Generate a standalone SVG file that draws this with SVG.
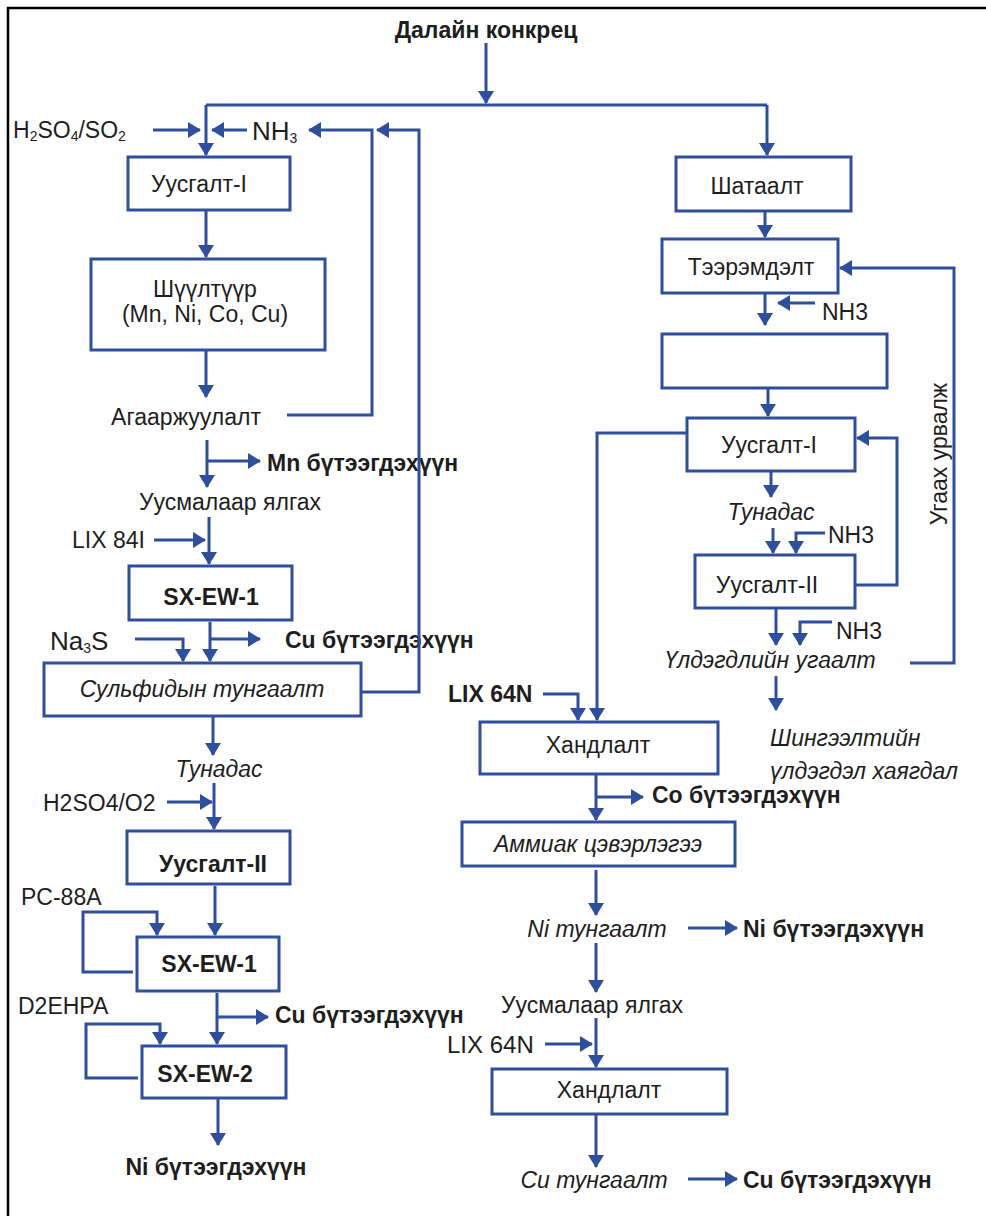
<svg xmlns="http://www.w3.org/2000/svg" width="986" height="1216" viewBox="0 0 986 1216">
<defs>
<marker id="ah" viewBox="0 0 13 16" refX="12" refY="8" markerWidth="13" markerHeight="16" markerUnits="userSpaceOnUse" orient="auto">
<path d="M0,0 L13,8 L0,16 z" fill="#2F4E9C"/>
</marker>
<style>
.bx{fill:#fff;stroke:#2F4E9C;stroke-width:3}
.c path{fill:none;stroke:#2F4E9C;stroke-width:3}
.c .a{marker-end:url(#ah)}
text{font-family:"Liberation Sans",Arial,sans-serif;font-size:23px;fill:#1e1e1e}
.b{font-weight:bold}
.i{font-style:italic}
.m{text-anchor:middle}
.big{font-size:26px}
.sub{font-size:14px}
</style>
</defs>
<rect width="986" height="1216" fill="#fff"/>
<path d="M8,1216 V8 H986" fill="none" stroke="#000" stroke-width="2.5"/>

<g id="title"><text class="b m" x="486" y="38">Далайн конкрец</text></g>
<g id="h2so4-so2"><text x="13" y="138">H<tspan class="sub" dy="3">2</tspan><tspan dy="-3">SO</tspan><tspan class="sub" dy="3">4</tspan><tspan dy="-3">/SO</tspan><tspan class="sub" dy="3">2</tspan></text></g>
<g id="nh3-top"><text class="big" x="252" y="140">NH<tspan class="sub" dy="3">3</tspan></text></g>

<g id="uusgalt1-l"><rect class="bx" x="128" y="157" width="162" height="53"/><text class="m" x="199" y="192">Уусгалт-I</text></g>
<g id="shuultuur"><rect class="bx" x="91" y="259" width="234" height="91"/><text class="m" x="205" y="297">Шүүлтүүр</text><text class="m" x="205" y="322">(Mn, Ni, Co, Cu)</text></g>
<g id="agaarjuulalt"><text class="m" x="186" y="425">Агааржуулалт</text></g>
<g id="mn-prod"><text class="b" x="267" y="471">Mn бүтээгдэхүүн</text></g>
<g id="uusmal-l"><text class="m" x="230" y="510">Уусмалаар ялгах</text></g>
<g id="lix84"><text x="72" y="548">LIX 84I</text></g>
<g id="sxew1-a"><rect class="bx" x="129" y="566" width="163" height="54"/><text class="b m" x="211" y="605">SX-EW-1</text></g>
<g id="cu-prod-1"><text class="b" x="285" y="648">Cu бүтээгдэхүүн</text></g>
<g id="na3s"><text class="big" x="50" y="650">Na<tspan class="sub" dy="3">3</tspan><tspan dy="-3">S</tspan></text></g>
<g id="sulfid"><rect class="bx" x="44" y="663" width="317" height="53"/><text class="i m" x="202" y="697">Сульфидын тунгаалт</text></g>
<g id="tunadas-l"><text class="i m" x="219" y="777">Тунадас</text></g>
<g id="h2so4-o2"><text x="43" y="811">H2SO4/O2</text></g>
<g id="uusgalt2-l"><rect class="bx" x="127" y="831" width="163" height="53"/><text class="b m" x="213" y="872">Уусгалт-II</text></g>
<g id="pc88a"><text x="21" y="905">PC-88A</text></g>
<g id="sxew1-b"><rect class="bx" x="137" y="937" width="142" height="54"/><text class="b m" x="209" y="972">SX-EW-1</text></g>
<g id="d2ehpa"><text x="18" y="1014">D2EHPA</text></g>
<g id="cu-prod-2"><text class="b" x="275" y="1023">Cu бүтээгдэхүүн</text></g>
<g id="sxew2"><rect class="bx" x="142" y="1046" width="144" height="52"/><text class="b m" x="205" y="1082">SX-EW-2</text></g>
<g id="ni-prod-l"><text class="b m" x="216" y="1175">Ni бүтээгдэхүүн</text></g>

<g id="shataalt"><rect class="bx" x="676" y="157" width="175" height="54"/><text class="m" x="757" y="194">Шатаалт</text></g>
<g id="teeremdelt"><rect class="bx" x="662" y="239" width="176" height="54"/><text class="m" x="751" y="275">Тээрэмдэлт</text></g>
<g id="nh3-r1"><text x="822" y="320">NH3</text></g>
<g id="empty-box"><rect class="bx" x="662" y="334" width="225" height="54"/></g>
<g id="uusgalt1-r"><rect class="bx" x="687" y="418" width="168" height="53"/><text class="m" x="769" y="453">Уусгалт-I</text></g>
<g id="tunadas-r"><text class="i m" x="771" y="520">Тунадас</text></g>
<g id="nh3-r2"><text x="828" y="543">NH3</text></g>
<g id="uusgalt2-r"><rect class="bx" x="695" y="555" width="160" height="53"/><text class="m" x="767" y="593">Уусгалт-II</text></g>
<g id="nh3-r3"><text x="836" y="639">NH3</text></g>
<g id="uldegdel-ugaalt"><text class="i m" x="770" y="668">Үлдэгдлийн угаалт</text></g>
<g id="shingeelt"><text class="i" x="770" y="746">Шингээлтийн</text><text class="i" x="770" y="779">үлдэгдэл хаягдал</text></g>
<g id="ugaah-urvalj"><text class="m" transform="translate(947,454) rotate(-90)">Угаах урвалж</text></g>
<g id="lix64n-b"><text class="b" x="448" y="702">LIX 64N</text></g>
<g id="handlalt1"><rect class="bx" x="480" y="722" width="238" height="52"/><text class="m" x="598" y="753">Хандлалт</text></g>
<g id="co-prod"><text class="b" x="652" y="803">Co бүтээгдэхүүн</text></g>
<g id="ammiak"><rect class="bx" x="462" y="822" width="273" height="44"/><text class="i m" x="598" y="852">Аммиак цэвэрлэгээ</text></g>
<g id="ni-tungaalt"><text class="i m" x="597" y="937">Ni тунгаалт</text></g>
<g id="ni-prod-r"><text class="b" x="743" y="937">Ni бүтээгдэхүүн</text></g>
<g id="uusmal-r"><text class="m" x="592" y="1013">Уусмалаар ялгах</text></g>
<g id="lix64n"><text x="447" y="1053" style="font-size:24px">LIX 64N</text></g>
<g id="handlalt2"><rect class="bx" x="492" y="1069" width="235" height="45"/><text class="m" x="609" y="1098">Хандлалт</text></g>
<g id="cu-tungaalt"><text class="i m" x="594" y="1188">Cu тунгаалт</text></g>
<g id="cu-prod-r"><text class="b" x="743" y="1188">Cu бүтээгдэхүүн</text></g>

<g id="connectors" class="c">
<path class="a" d="M486,43 V103"/>
<path d="M206,105 H767"/>
<path class="a" d="M206,105 V155"/>
<path class="a" d="M767,105 V155"/>
<path class="a" d="M153,130 H200"/>
<path class="a" d="M247,130 H212"/>
<path class="a" d="M287,415 H372 V130 H309"/>
<path class="a" d="M362,692 H419 V130 H377"/>
<path class="a" d="M206,210 V257"/>
<path class="a" d="M206,350 V397"/>
<path class="a" d="M207,440 V487"/>
<path class="a" d="M207,461 H260"/>
<path class="a" d="M209,517 V564"/>
<path class="a" d="M154,540 H205"/>
<path class="a" d="M210,622 V661"/>
<path class="a" d="M210,639 H260"/>
<path class="a" d="M135,639 H183 V661"/>
<path class="a" d="M213,716 V755"/>
<path class="a" d="M214,783 V829"/>
<path class="a" d="M167,802 H212"/>
<path class="a" d="M215,886 V935"/>
<path class="a" d="M133,972 H83 V912 H157 V935"/>
<path class="a" d="M217,993 V1044"/>
<path class="a" d="M217,1017 H268"/>
<path class="a" d="M138,1078 H86 V1024 H160 V1044"/>
<path class="a" d="M218,1098 V1145"/>
<path class="a" d="M765,211 V237"/>
<path class="a" d="M765,293 V325"/>
<path class="a" d="M815,303 H778"/>
<path class="a" d="M910,663 H954 V268 H840"/>
<path class="a" d="M768,388 V416"/>
<path class="a" d="M687,433 H597 V720"/>
<path class="a" d="M771,471 V497"/>
<path class="a" d="M773,528 V553"/>
<path class="a" d="M825,533 H796 V553"/>
<path class="a" d="M855,585 H897 V438 H857"/>
<path class="a" d="M776,608 V645"/>
<path class="a" d="M832,622 H800 V645"/>
<path class="a" d="M776,676 V710"/>
<path class="a" d="M543,694 H578 V720"/>
<path class="a" d="M596,774 V820"/>
<path class="a" d="M596,797 H643"/>
<path class="a" d="M596,870 V915"/>
<path class="a" d="M688,928 H737"/>
<path class="a" d="M596,943 V992"/>
<path class="a" d="M596,1018 V1067"/>
<path class="a" d="M545,1044 H592"/>
<path class="a" d="M596,1114 V1167"/>
<path class="a" d="M688,1179 H737"/>
</g>
</svg>
